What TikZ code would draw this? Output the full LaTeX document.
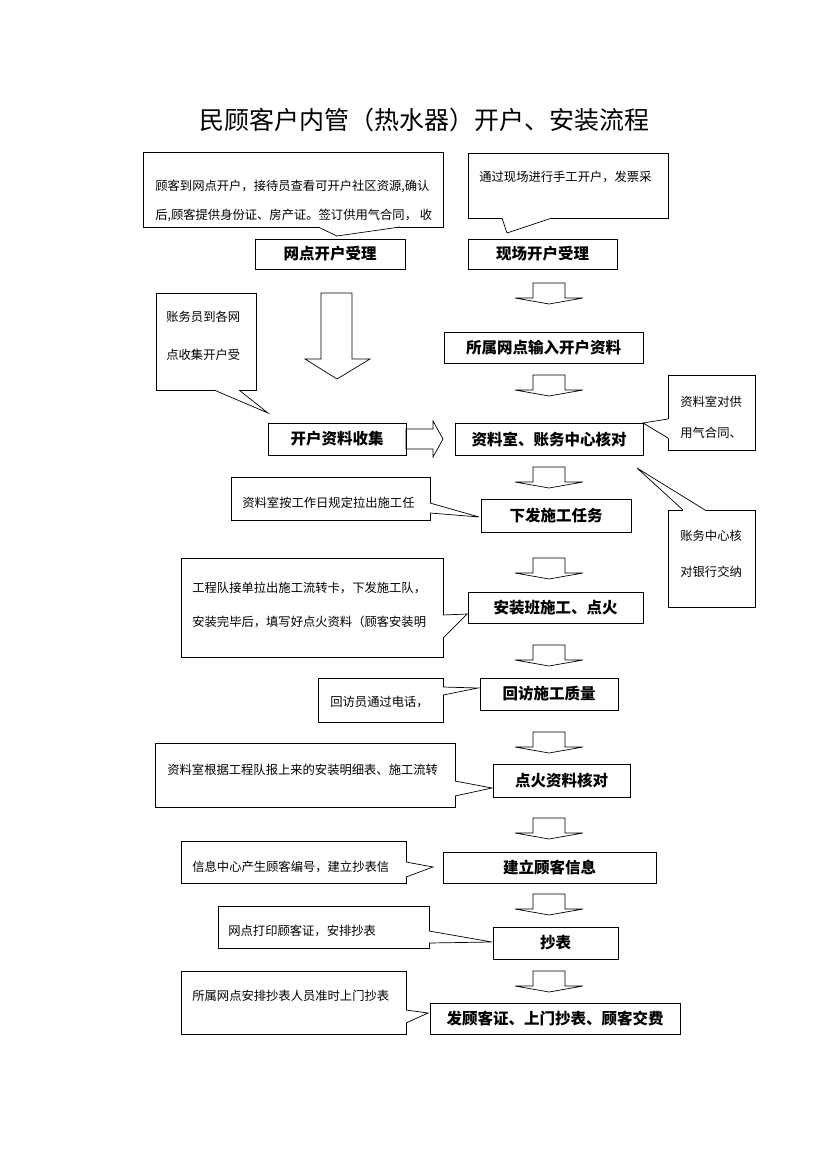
\documentclass[tikz,border=0pt]{standalone}
\usepackage{fontspec}
\setmainfont{Noto Sans CJK SC}
\usetikzlibrary{calc}

% tail of a note box: start, tip, end, shift into the box
\newcommand{\calltail}[4]{%
  \fill[white] (#1) -- (#2) -- (#3) -- ($(#3)+(#4)$) -- ($(#1)+(#4)$) -- cycle;
  \draw (#1) -- (#2) -- (#3);
}

\begin{document}
\begin{tikzpicture}[x=1pt, y=-1pt, line width=0.7pt,
  stepbox/.style={draw, rectangle, inner sep=0pt, font=\fontsize{15.5}{18}\selectfont\bfseries},
  notebox/.style={draw, rectangle, inner sep=0pt},
  notetext/.style={anchor=west, inner sep=0pt, font=\fontsize{12.3}{14}\selectfont}]
\useasboundingbox (0,0) rectangle (826,1169);

\node (title) at (424,120) {\fontsize{25}{30}\selectfont 民顾客户内管（热水器）开户、安装流程};

% note boxes
\node (c1)[notebox, minimum width=300pt, minimum height=75pt] at (293,189.5) {};
\node (c2)[notebox, minimum width=200pt, minimum height=65pt] at (568,185.5) {};
\node (c3)[notebox, minimum width=100pt, minimum height=97pt] at (206,341.5) {};
\node (c4)[notebox, minimum width=87pt, minimum height=75pt] at (711.5,412.5) {};
\node (c5)[notebox, minimum width=87pt, minimum height=97pt] at (711.5,558.5) {};
\node (c6)[notebox, minimum width=199pt, minimum height=43pt] at (330.5,498.5) {};
\node (c7)[notebox, minimum width=262pt, minimum height=99pt] at (312,607.5) {};
\node (c8)[notebox, minimum width=125pt, minimum height=44pt] at (380.5,700) {};
\node (c9)[notebox, minimum width=300pt, minimum height=64pt] at (305,775) {};
\node (c10)[notebox, minimum width=225pt, minimum height=42pt] at (293.5,862) {};
\node (c11)[notebox, minimum width=211pt, minimum height=42pt] at (323.5,927) {};
\node (c12)[notebox, minimum width=225pt, minimum height=63pt] at (293.5,1002.5) {};

\calltail{318,227}{337,236}{400,227}{0,-2}
\calltail{502,218}{507,233}{552,218}{0,-2}
\calltail{214,390}{268,413}{239,390}{0,-2}
\calltail{668,419}{643,423}{668,438}{2,0}
\calltail{683,510}{637,468}{705,510}{0,2}
\calltail{430,503}{479,517}{430,513}{-2,0}
\calltail{443,615}{467,614}{443,638}{-2,0}
\calltail{443,687}{478,688}{443,695}{-2,0}
\calltail{455,781}{492,788}{455,796}{-2,0}
\calltail{406,862}{433,867}{406,877}{-2,0}
\calltail{429,931}{492,942}{429,943}{-2,0}
\calltail{406,1010}{428,1013}{406,1023}{-2,0}

% note texts
\node (t1a)[notetext] at (155,186) {顾客到网点开户，接待员查看可开户社区资源,确认};
\node (t1b)[notetext] at (155,215) {后,顾客提供身份证、房产证。签订供用气合同， 收};
\node (t2a)[notetext] at (479,177) {通过现场进行手工开户，发票采};
\node (t3a)[notetext] at (166,317) {账务员到各网};
\node (t3b)[notetext] at (166,355) {点收集开户受};
\node (t4a)[notetext] at (680,402) {资料室对供};
\node (t4b)[notetext] at (680,433) {用气合同、};
\node (t5a)[notetext] at (680,536) {账务中心核};
\node (t5b)[notetext] at (680,572) {对银行交纳};
\node (t6a)[notetext] at (242,503) {资料室按工作日规定拉出施工任};
\node (t7a)[notetext] at (192,588) {工程队接单拉出施工流转卡，下发施工队，};
\node (t7b)[notetext] at (192,622) {安装完毕后，填写好点火资料（顾客安装明};
\node (t8a)[notetext] at (330,702) {回访员通过电话，};
\node (t9a)[notetext] at (167,770) {资料室根据工程队报上来的安装明细表、施工流转};
\node (t10a)[notetext] at (192,867) {信息中心产生顾客编号，建立抄表信};
\node (t11a)[notetext] at (228,931) {网点打印顾客证，安排抄表};
\node (t12a)[notetext] at (192,996) {所属网点安排抄表人员准时上门抄表};

% step boxes
\node (b1)[stepbox, minimum width=150pt, minimum height=30pt] at (330,254) {网点开户受理};
\node (b2)[stepbox, minimum width=149pt, minimum height=30pt] at (542.5,254) {现场开户受理};
\node (b3)[stepbox, minimum width=199pt, minimum height=31pt] at (543.5,347.5) {所属网点输入开户资料};
\node (b4)[stepbox, minimum width=138pt, minimum height=32pt] at (337,439) {开户资料收集};
\node (b5)[stepbox, minimum width=188pt, minimum height=32pt] at (549,439) {资料室、账务中心核对};
\node (b6)[stepbox, minimum width=150pt, minimum height=33pt] at (556,515.5) {下发施工任务};
\node (b7)[stepbox, minimum width=175pt, minimum height=31pt] at (555.5,607.5) {安装班施工、点火};
\node (b8)[stepbox, minimum width=138pt, minimum height=32pt] at (549,694) {回访施工质量};
\node (b9)[stepbox, minimum width=137pt, minimum height=33pt] at (561.5,780.5) {点火资料核对};
\node (b10)[stepbox, minimum width=213pt, minimum height=31pt] at (549.5,867.5) {建立顾客信息};
\node (b11)[stepbox, minimum width=125pt, minimum height=32pt] at (555.5,943) {抄表};
\node (b12)[stepbox, minimum width=250pt, minimum height=31pt] at (555,1018.5) {发顾客证、上门抄表、顾客交费};

% hollow arrows
\draw (321,293) -- (352,293) -- (352,359) -- (370,359) -- (337,379) -- (305,359) -- (321,359) -- cycle;
\draw (406,429) -- (433,429) -- (433,421) -- (443,439) -- (433,457) -- (433,449) -- (406,449) -- cycle;
\foreach \t in {283,375,467,558,645,732,818,894,971}
{
	\draw (533,\t) -- (565,\t) -- (565,\t+15) -- (583,\t+15) -- (549,\t+21) -- (515,\t+15) -- (533,\t+15) -- cycle;
}
\end{tikzpicture}
\end{document}
